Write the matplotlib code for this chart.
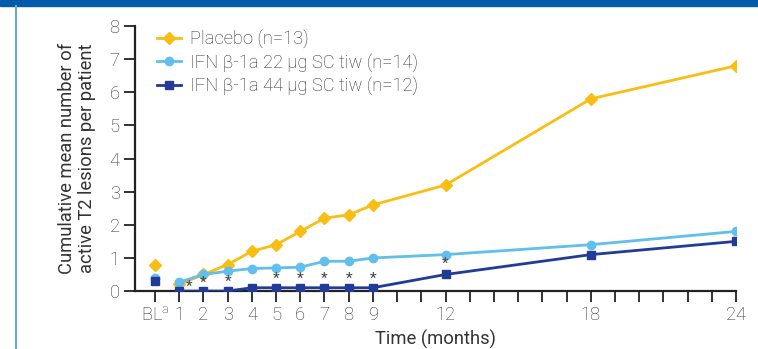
import numpy as np
import matplotlib.pyplot as plt
from matplotlib.patches import Rectangle
from matplotlib.lines import Line2D

plt.rcParams['font.family'] = ['Roboto', 'DejaVu Sans']
plt.rcParams['font.weight'] = 'light'

# months (0 = baseline)
months = [1, 2, 3, 4, 5, 6, 7, 8, 9, 12, 18, 24]
placebo = [0.2, 0.5, 0.8, 1.2, 1.4, 1.8, 2.2, 2.3, 2.6, 3.2, 5.8, 6.8]
ifn22 = [0.27, 0.5, 0.6, 0.68, 0.7, 0.72, 0.9, 0.9, 1.0, 1.1, 1.4, 1.8]
ifn44 = [0.0, 0.0, 0.0, 0.1, 0.1, 0.1, 0.1, 0.1, 0.1, 0.5, 1.1, 1.5]
bl_placebo = 0.8
bl_22 = 0.4
bl_44 = 0.3

# significance asterisks (x, y)
star_x = [1.4, 2, 3, 5, 6, 7, 8, 9, 12]
star_y = [0.12, 0.25, 0.28, 0.37, 0.37, 0.37, 0.37, 0.37, 0.82]

tick_pos = [0, 1, 2, 3, 4, 5, 6, 7, 8, 9, 12, 18, 24]
tick_lab = ['BL$^{\\mathregular{a}}$', '1', '2', '3', '4', '5', '6', '7', '8', '9', '12', '18', '24']

c_pl = '#F9BE14'
c_22 = '#62BEEA'
c_44 = '#213B97'
txt = '#333333'
fs = 13.2

fig = plt.figure(figsize=(7.58, 3.49), dpi=100)
ax = fig.add_axes([0.178, 0.166, 0.793, 0.7595])

# frame decoration
fig.patches.append(Rectangle((0, 0.982), 1, 0.018, transform=fig.transFigure,
                             color='#005BAA', zorder=0))
fig.lines.append(Line2D([0.021, 0.021], [0, 0.982], transform=fig.transFigure,
                        color='#6FA3DA', lw=1.5))

ax.plot(months, placebo, color=c_pl, marker='D', ms=6, lw=2, label='Placebo (n=13)', zorder=3)
ax.plot(months, ifn22, color=c_22, marker='o', ms=6, lw=2, label='IFN β-1a 22 µg SC tiw (n=14)', zorder=4)
ax.plot(months, ifn44, color=c_44, marker='s', ms=6, lw=2, label='IFN β-1a 44 µg SC tiw (n=12)', zorder=5)
ax.plot([0], [bl_placebo], color=c_pl, marker='D', ms=6, ls='none', clip_on=False)
ax.plot([0], [bl_22], color=c_22, marker='o', ms=6, ls='none', clip_on=False)
ax.plot([0], [bl_44], color=c_44, marker='s', ms=6, ls='none', clip_on=False)

for x, y in zip(star_x, star_y):
    ax.text(x, y, '*', ha='center', va='center', fontsize=11, color='#444444',
            fontweight='normal', zorder=6)

ax.set_xlim(-0.83, 24)
ax.set_ylim(0, 8)
ax.set_xticks(range(0, 25))
ax.set_xticklabels([tick_lab[tick_pos.index(i)] if i in tick_pos else '' for i in range(0, 25)])
ax.set_yticks(range(0, 9))
for s in ['top', 'right']:
    ax.spines[s].set_visible(False)
for s in ['left', 'bottom']:
    ax.spines[s].set_linewidth(1.6)
    ax.spines[s].set_color('#222222')
ax.tick_params(axis='both', length=8, width=1.3, color='#222222', labelsize=fs,
               labelcolor=txt, pad=3)
ax.set_xlabel('Time (months)', fontsize=fs, color=txt, labelpad=4)
ax.set_ylabel('Cumulative mean number of\nactive T2 lesions per patient', fontsize=fs,
              color=txt, labelpad=10, linespacing=1.15)

ax.legend(loc='upper left', bbox_to_anchor=(0.01, 1.05), frameon=False, fontsize=fs,
          labelcolor=txt, handlelength=1.3, handletextpad=0.5, labelspacing=0.25)

fig.savefig('out.png', dpi=100)
